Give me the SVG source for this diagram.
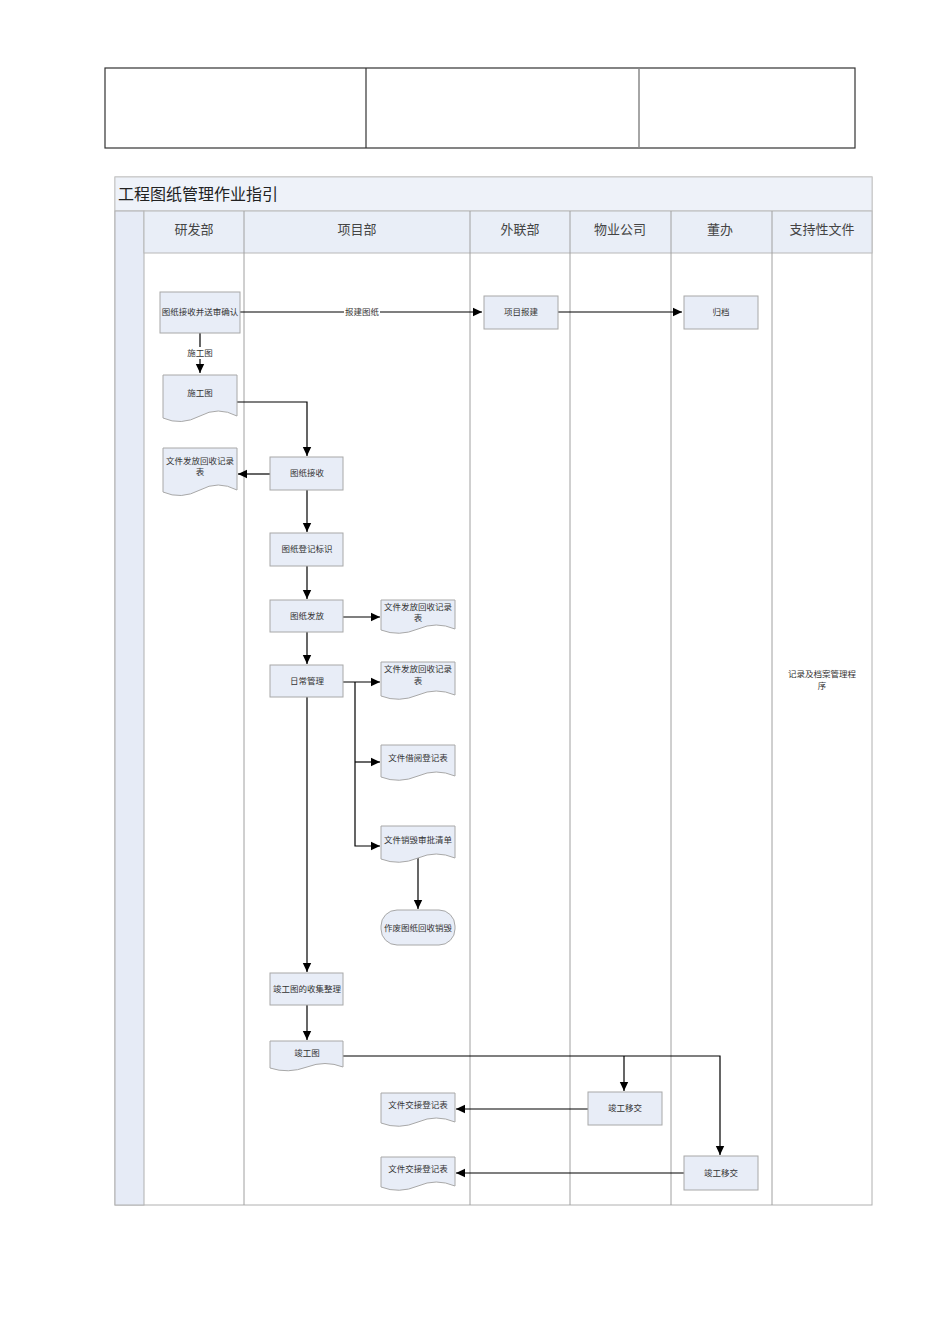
<svg xmlns="http://www.w3.org/2000/svg" width="950" height="1344" viewBox="0 0 950 1344">
<style>
.t{font-family:"Noto Sans CJK SC","Noto Sans",sans-serif;fill:#333;text-anchor:middle}
.n{font-size:8.5px}
.h{font-size:13px;fill:#444}
.box{fill:#e8edf7;stroke:#a8a8a8;stroke-width:1}
.col{stroke:#a0a0a0;stroke-width:1}
.c{fill:none;stroke:#000;stroke-width:1.2}
</style>
<defs>
<marker id="ah" markerWidth="10" markerHeight="10" refX="9" refY="5" orient="auto" markerUnits="userSpaceOnUse">
<path d="M0,0.8 L9,5 L0,9.2 Z" fill="#000"/>
</marker>
</defs>
<rect width="950" height="1344" fill="#fff"/>
<g id="top-table">
<rect x="105" y="68" width="750" height="80" fill="#fff" stroke="#333" stroke-width="1.2"/>
<line x1="366" y1="68" x2="366" y2="148" stroke="#333" stroke-width="1.2"/>
<line x1="639" y1="68" x2="639" y2="148" stroke="#888" stroke-width="1.5"/>
</g>
<g id="frame">
<rect x="115" y="177" width="757" height="1028" fill="#fff" stroke="#b0b0b0"/>
<rect x="115" y="177" width="757" height="34" fill="#eef2f9" stroke="#c8c8c8"/>
<text x="118" y="200" class="t" style="text-anchor:start;font-size:16px;fill:#222">工程图纸管理作业指引</text>
<rect x="115" y="211" width="29" height="994" fill="#e6ebf6" stroke="#b0b0b0"/>
<rect x="144" y="211" width="728" height="42" fill="#e9eef7" stroke="#b8b8b8"/>
<line class="col" x1="244" y1="211" x2="244" y2="1205"/>
<line class="col" x1="470" y1="211" x2="470" y2="1205"/>
<line class="col" x1="570" y1="211" x2="570" y2="1205"/>
<line class="col" x1="671" y1="211" x2="671" y2="1205"/>
<line class="col" x1="772" y1="211" x2="772" y2="1205"/>
<text x="194" y="234" class="t h">研发部</text>
<text x="357" y="234" class="t h">项目部</text>
<text x="520" y="234" class="t h">外联部</text>
<text x="620" y="234" class="t h">物业公司</text>
<text x="720" y="234" class="t h">董办</text>
<text x="822" y="234" class="t h">支持性文件</text>
<text x="822" y="677" class="t n">记录及档案管理程</text>
<text x="822" y="689" class="t n">序</text>
</g>
<g id="connectors">
<path class="c" d="M240,312 H482" marker-end="url(#ah)"/>
<rect x="344" y="306" width="36" height="12" fill="#fff"/>
<text x="362" y="315" class="t n">报建图纸</text>
<path class="c" d="M558,312 H682" marker-end="url(#ah)"/>
<path class="c" d="M200,333 V373" marker-end="url(#ah)"/>
<rect x="185" y="347" width="30" height="12" fill="#fff"/>
<text x="200" y="356" class="t n">施工图</text>
<path class="c" d="M237,402 H307 V456" marker-end="url(#ah)"/>
<path class="c" d="M270,474 H238" marker-end="url(#ah)"/>
<path class="c" d="M307,490 V532" marker-end="url(#ah)"/>
<path class="c" d="M307,566 V599" marker-end="url(#ah)"/>
<path class="c" d="M343,617 H380" marker-end="url(#ah)"/>
<path class="c" d="M307,632 V664" marker-end="url(#ah)"/>
<path class="c" d="M343,682 H380" marker-end="url(#ah)"/>
<path class="c" d="M355,682 V846 H380" marker-end="url(#ah)"/>
<path class="c" d="M355,762 H380" marker-end="url(#ah)"/>
<path class="c" d="M418,858 V909" marker-end="url(#ah)"/>
<path class="c" d="M307,697 V972" marker-end="url(#ah)"/>
<path class="c" d="M307,1005 V1040" marker-end="url(#ah)"/>
<path class="c" d="M343,1056 H720 V1155" marker-end="url(#ah)"/>
<path class="c" d="M624,1056 V1091" marker-end="url(#ah)"/>
<path class="c" d="M588,1109 H456" marker-end="url(#ah)"/>
<path class="c" d="M684,1173 H456" marker-end="url(#ah)"/>
</g>
<g id="n1"><rect class="box" x="160" y="292" width="80" height="41"/><text x="200" y="315" class="t n">图纸接收并送审确认</text></g>
<g id="n2"><rect class="box" x="484" y="296" width="74" height="33"/><text x="521" y="315" class="t n">项目报建</text></g>
<g id="n3"><rect class="box" x="684" y="296" width="74" height="33"/><text x="721" y="315" class="t n">归档</text></g>
<g id="n4"><path class="box" d="M163,375 H237 V416 Q218,406 200,416 Q181,426 163,418 Z"/><text x="200" y="396" class="t n">施工图</text></g>
<g id="n5"><path class="box" d="M163,448 H237 V490 Q218,480 200,490 Q181,500 163,492 Z"/><text x="200" y="464" class="t n">文件发放回收记录</text><text x="200" y="475" class="t n">表</text></g>
<g id="n6"><rect class="box" x="270" y="457" width="73" height="33"/><text x="307" y="476" class="t n">图纸接收</text></g>
<g id="n7"><rect class="box" x="270" y="533" width="73" height="33"/><text x="307" y="552" class="t n">图纸登记标识</text></g>
<g id="n8"><rect class="box" x="270" y="600" width="73" height="32"/><text x="307" y="619" class="t n">图纸发放</text></g>
<g id="n9"><path class="box" d="M381,600 H455 V629 Q436,621 418,629 Q399,637 381,630 Z"/><text x="418" y="610" class="t n">文件发放回收记录</text><text x="418" y="621" class="t n">表</text></g>
<g id="n10"><rect class="box" x="270" y="665" width="73" height="32"/><text x="307" y="684" class="t n">日常管理</text></g>
<g id="n11"><path class="box" d="M381,662 H455 V695 Q436,687 418,695 Q399,703 381,696 Z"/><text x="418" y="672" class="t n">文件发放回收记录</text><text x="418" y="684" class="t n">表</text></g>
<g id="n12"><path class="box" d="M381,745 H455 V776 Q436,768 418,776 Q399,784 381,777 Z"/><text x="418" y="761" class="t n">文件借阅登记表</text></g>
<g id="n13"><path class="box" d="M381,826 H455 V858 Q436,850 418,858 Q399,866 381,859 Z"/><text x="418" y="843" class="t n">文件销毁审批清单</text></g>
<g id="n14"><rect class="box" x="381" y="910" width="74" height="35" rx="16"/><text x="418" y="931" class="t n">作废图纸回收销毁</text></g>
<g id="n15"><rect class="box" x="270" y="973" width="73" height="32"/><text x="307" y="992" class="t n">竣工图的收集整理</text></g>
<g id="n16"><path class="box" d="M270,1041 H343 V1067 Q325,1060 307,1067 Q288,1074 270,1068 Z"/><text x="307" y="1056" class="t n">竣工图</text></g>
<g id="n17"><rect class="box" x="588" y="1092" width="74" height="33"/><text x="625" y="1111" class="t n">竣工移交</text></g>
<g id="n18"><path class="box" d="M381,1093 H455 V1122 Q436,1114 418,1122 Q399,1130 381,1123 Z"/><text x="418" y="1108" class="t n">文件交接登记表</text></g>
<g id="n19"><rect class="box" x="684" y="1156" width="74" height="34"/><text x="721" y="1176" class="t n">竣工移交</text></g>
<g id="n20"><path class="box" d="M381,1157 H455 V1186 Q436,1178 418,1186 Q399,1194 381,1187 Z"/><text x="418" y="1172" class="t n">文件交接登记表</text></g>
</svg>
